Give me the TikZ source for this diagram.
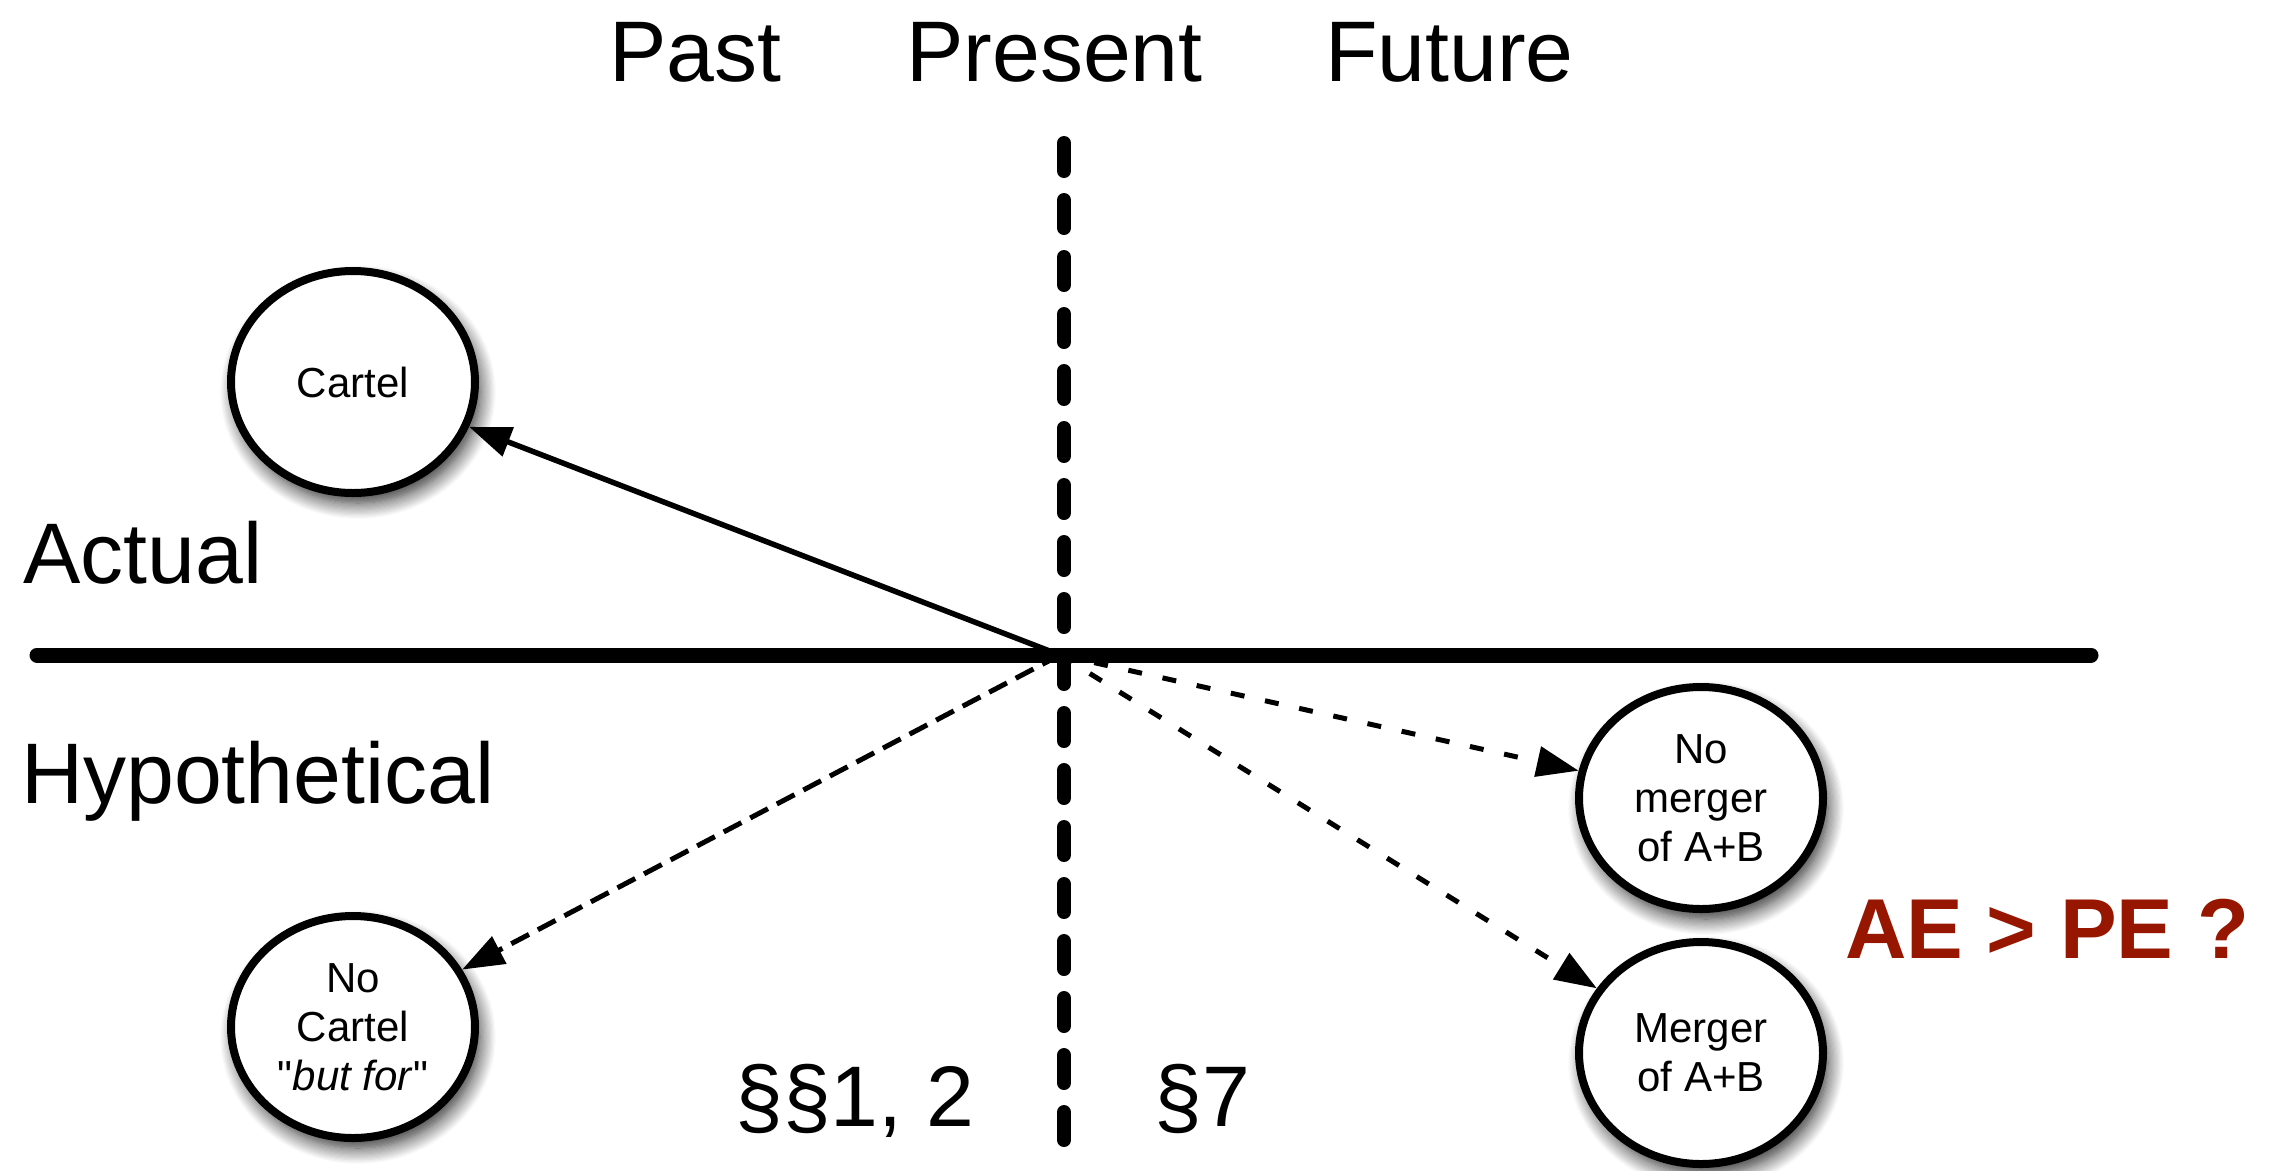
\documentclass[tikz,border=0pt]{standalone}
\usepackage{fontspec}
\setmainfont{Liberation Sans}[Ligatures=TeXOff]
\usetikzlibrary{arrows.meta,shapes.geometric,shadows.blur}
\definecolor{aered}{RGB}{150,22,0}

\tikzset{
  event/.style={ellipse, draw, line width=8pt, fill=white,
    minimum width=244pt, minimum height=222pt, inner sep=0pt,
    align=center, font=\fontsize{42}{49}\selectfont,
    blur shadow={shadow xshift=5pt, shadow yshift=-10pt,
      shadow blur radius=16pt, shadow opacity=85, shadow blur steps=14}},
  heading/.style={inner sep=0pt, anchor=base west,
    font=\fontsize{86}{100}\selectfont},
  headarrow/.style={-{Triangle[length=42pt,width=30pt]}},
  solidlink/.style={headarrow, line width=5.5pt},
  pastlink/.style={headarrow, line width=5pt, dash pattern=on 20pt off 10pt},
  futurelink/.style={headarrow, line width=5pt, dash pattern=on 14pt off 21pt},
  divider/.style={line width=15pt, line cap=round},
  nowline/.style={line width=14pt, line cap=round, dash pattern=on 28pt off 29pt},
}

\begin{document}
\begin{tikzpicture}[x=1pt, y=-1pt]
  \useasboundingbox (0,0) rectangle (2274,1170);

  % time headings
  \node[heading] (past)    at (609,81)  {Past};
  \node[heading] (present) at (906,81)  {Present};
  \node[heading] (future)  at (1325,81) {Future};

  % row headings
  \node[heading] (actual) at (23,583) {Actual};
  \node[heading] (hypo)   at (21,803) {Hypothetical};

  % statute labels
  \node[heading] (s12) at (735,1126)  {§§1, 2};
  \node[heading] (s7)  at (1154,1126) {§7};

  % question
  \node[heading, font=\fontsize{85}{100}\selectfont\bfseries, text=aered]
    (ae) at (1845,958) {AE > PE ?};

  % outcomes
  \node[event] (cartel)   at (353,382)   {Cartel};
  \node[event] (nocartel) at (353,1027)  {No\\Cartel\\"\textit{but for}"};
  \node[event] (nomerger) at (1701,798)  {No\\merger\\of A+B};
  \node[event] (merger)   at (1701,1053) {Merger\\of A+B};

  % axes
  \coordinate (hl) at (37,655);
  \coordinate (hr) at (2091,655);
  \coordinate (vt) at (1064,143);
  \coordinate (vb) at (1064,1140);
  \coordinate (now) at (1060,655);

  % links from the present
  \draw[solidlink]  (now) -- (cartel);
  \draw[pastlink]   (now) -- (nocartel);
  \draw[futurelink] (now) -- (nomerger);
  \draw[futurelink] (now) -- (merger);

  \draw[divider] (hl) -- (hr);
  \draw[nowline] (vt) -- (vb);
\end{tikzpicture}
\end{document}
